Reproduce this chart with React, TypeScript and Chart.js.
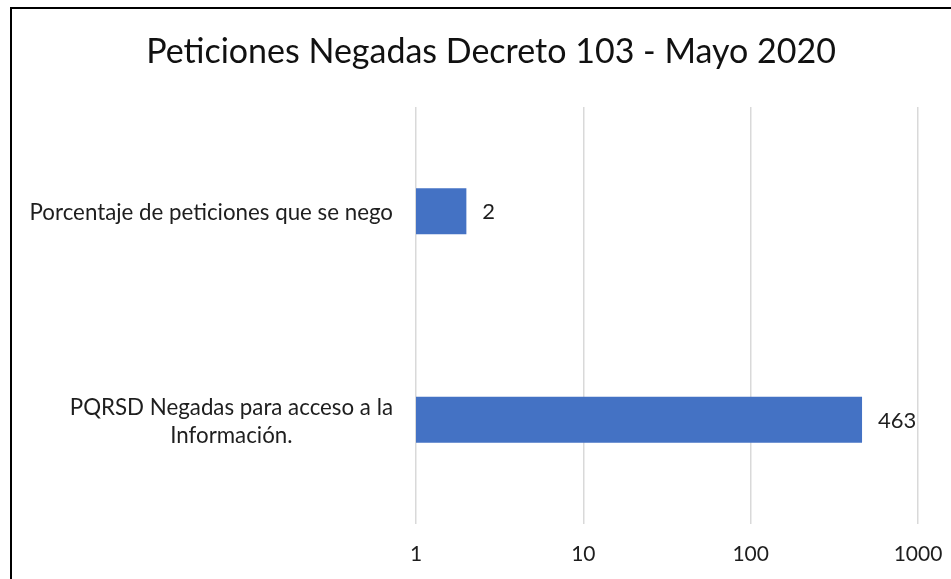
import React, { useEffect, useRef } from "react";
import { Chart, registerables } from "chart.js";

Chart.register(...registerables);

const TITLE = "Peticiones Negadas Decreto 103 - Mayo 2020";
const CATEGORIES = [
  "Porcentaje de peticiones que se nego",
  "PQRSD Negadas para acceso a la Información.",
];
const CATEGORY_LINES = [
  ["Porcentaje de peticiones que se nego"],
  ["PQRSD Negadas para acceso a la", "Información."],
];
const VALUES = [2, 463];
const X_TICKS = [1, 10, 100, 1000];

const FONT = "Lato, 'Open Sans', sans-serif";
const BAR_COLOR = "#4472C4";
const TEXT_COLOR = "#1e1e1e";

export default function App() {
  const ref = useRef<HTMLCanvasElement | null>(null);

  useEffect(() => {
    if (!ref.current) return;

    const labelsPlugin = {
      id: "customLabels",
      afterDatasetsDraw(chart: any) {
        const ctx = chart.ctx;
        const area = chart.chartArea;
        const yScale = chart.scales.y;
        ctx.save();
        // title
        ctx.fillStyle = "#111111";
        ctx.font = `34px ${FONT}`;
        ctx.textAlign = "center";
        ctx.textBaseline = "middle";
        ctx.fillText(TITLE, 491, 52);

        // category labels: block right-aligned, lines centred
        ctx.font = `22.3px ${FONT}`;
        ctx.fillStyle = TEXT_COLOR;
        const lineH = 28;
        CATEGORY_LINES.forEach((lines, i) => {
          const cy = yScale.getPixelForValue(i);
          const widest = Math.max(...lines.map((l) => ctx.measureText(l).width));
          const cx = area.left - 23 - widest / 2;
          const startY = cy - ((lines.length - 1) * lineH) / 2 + 2;
          lines.forEach((l, j) => {
            ctx.fillText(l, cx, startY + j * lineH);
          });
        });

        // value labels
        ctx.font = `22px ${FONT}`;
        ctx.textAlign = "left";
        const meta = chart.getDatasetMeta(0);
        meta.data.forEach((bar: any, i: number) => {
          ctx.fillText(String(VALUES[i]), bar.x + 16, bar.y + 1);
        });
        ctx.restore();
      },
    };

    const chart = new Chart(ref.current, {
      type: "bar",
      data: {
        labels: CATEGORIES,
        datasets: [
          {
            data: VALUES,
            backgroundColor: BAR_COLOR,
            borderWidth: 0,
            categoryPercentage: 1,
            barPercentage: 0.22,
          },
        ],
      },
      options: {
        indexAxis: "y",
        animation: false,
        responsive: false,
        maintainAspectRatio: false,
        layout: { padding: { left: 0, right: 33, top: 107, bottom: 0 } },
        plugins: {
          legend: { display: false },
          title: { display: false },
          tooltip: { enabled: false },
        },
        scales: {
          x: {
            type: "logarithmic",
            min: 1,
            max: 1000,
            afterBuildTicks: (scale: any) => {
              scale.ticks = X_TICKS.map((v) => ({ value: v }));
            },
            afterFit: (scale: any) => {
              scale.height = 55;
              scale.paddingRight = 0;
              scale.paddingLeft = 0;
            },
            grid: { color: "#d9d9d9", lineWidth: 1.5, drawTicks: false },
            border: { display: false },
            ticks: {
              padding: 18,
              color: TEXT_COLOR,
              font: { family: FONT, size: 21 },
              callback: (v: any) => String(v),
              maxRotation: 0,
              autoSkip: false,
            },
          },
          y: {
            grid: { display: false },
            border: { display: false },
            ticks: { display: false },
            afterFit: (scale: any) => {
              scale.width = 416;
            },
          },
        },
      },
      plugins: [labelsPlugin],
    } as any);

    return () => chart.destroy();
  }, []);

  return (
    <div
      style={{
        position: "fixed",
        left: 0,
        top: 0,
        width: 951,
        height: 579,
        background: "#fff",
        overflow: "hidden",
      }}
    >
      <canvas ref={ref} width={951} height={579} style={{ display: "block" }} />
      <div
        style={{
          position: "absolute",
          left: 10,
          top: 7,
          width: 1000,
          height: 1000,
          borderLeft: "2px solid #000",
          borderTop: "2px solid #000",
          pointerEvents: "none",
        }}
      />
    </div>
  );
}
